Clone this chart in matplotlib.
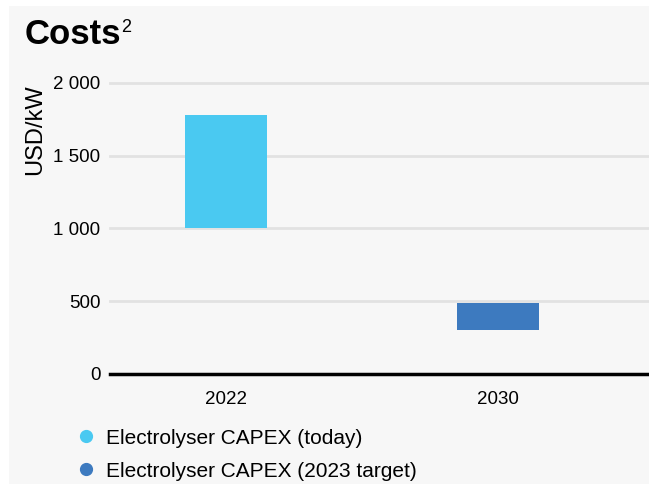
import matplotlib.pyplot as plt
from matplotlib.lines import Line2D
from matplotlib.patches import Rectangle

plt.rcParams['font.family'] = ['Liberation Sans', 'DejaVu Sans']

# dados (USD/kW): faixa de custo do eletrolisador
years = ["2022", "2030"]
series = ["Electrolyser CAPEX (today)", "Electrolyser CAPEX (2023 target)"]
low = [1000, 300]
high = [1780, 490]
colors = ["#4ac9f1", "#3d7abf"]
yticks = [0, 500, 1000, 1500, 2000]
ytick_labels = ["0", "500", "1 000", "1 500", "2 000"]

fig = plt.figure(figsize=(6.49, 4.84), dpi=100)
fig.patch.set_facecolor("white")
# fundo cinza claro com margem branca em cima e a esquerda
fig.patches.append(Rectangle((9/649, 0), 1, 1 - 6/484, transform=fig.transFigure,
                             facecolor="#f7f7f7", edgecolor="none", zorder=-10))

ax = fig.add_axes([110/649, 1 - 374/484, 1 - 110/649, (374 - 83)/484])
ax.set_facecolor("none")

x = range(len(years))
for i in x:
    ax.bar(i, high[i] - low[i], bottom=low[i], width=0.30, color=colors[i], zorder=3)

ax.set_xlim(-116/272, 1 + 151/272)
ax.set_ylim(0, 2000)
ax.set_yticks(yticks)
ax.set_yticklabels(ytick_labels, fontsize=13.5)
ax.set_xticks(list(x))
ax.set_xticklabels(years, fontsize=13.5)
ax.tick_params(axis="both", length=0)
ax.tick_params(axis="y", pad=7)
ax.tick_params(axis="x", pad=12)
for s in ax.spines.values():
    s.set_visible(False)

for v in yticks[1:]:
    ax.axhline(v, color="#e2e2e2", lw=2, zorder=1, clip_on=False)
ax.axhline(0, color="black", lw=2.5, zorder=4, clip_on=False)

ax.set_ylabel("USD/kW", fontsize=17)
ax.yaxis.set_label_coords(-64/539, 1 - 47/291)

fig.text(25/649, 1 - 35/484, "Costs", fontsize=25, fontweight="bold", va="center", ha="left")
fig.text(121/649, 1 - 28/484, "2", fontsize=13, va="center", ha="left")

handles = [Line2D([], [], marker="o", linestyle="none", markersize=8.5,
                  markerfacecolor=c, markeredgecolor=c) for c in colors]
fig.legend(handles, series, loc="upper left", bbox_to_anchor=(77.7/649, 1 - 428.5/484),
           frameon=False, fontsize=15, handletextpad=0.56, handlelength=0.8,
           labelspacing=0.68, borderaxespad=0, borderpad=0)

plt.savefig("out.png", dpi=100)
